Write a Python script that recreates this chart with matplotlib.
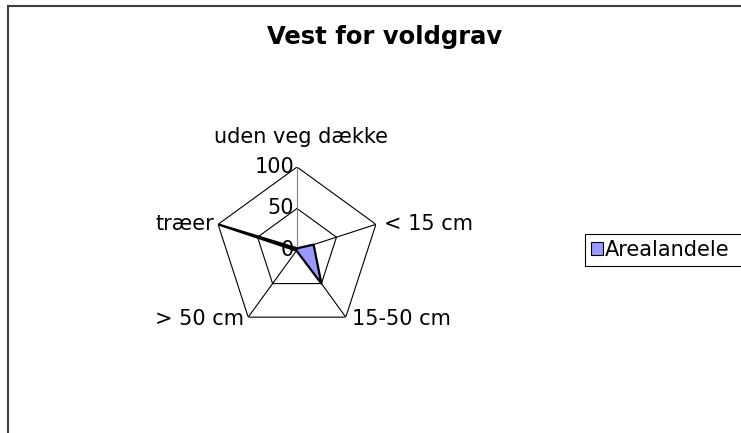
import numpy as np
import matplotlib.pyplot as plt
from matplotlib.lines import Line2D
from matplotlib.patches import Patch

# data
categories = ['uden veg dække', '< 15 cm', '15-50 cm', '> 50 cm', 'træer']
arealandele = [2, 21, 50, 1, 100]
rings = [50, 100]
ring_labels = ['0', '50', '100']

fig = plt.figure(figsize=(7.41, 4.33), dpi=100)
fig.patch.set_facecolor('white')

# chart area border (cut off on right/bottom)
fig.add_artist(Line2D([8/741, 8/741], [0, 1 - 6/433], color='#404040', lw=1.5))
fig.add_artist(Line2D([8/741, 1], [1 - 6/433, 1 - 6/433], color='#404040', lw=1.5))

fig.text(385/741, 1 - 37/433, 'Vest for voldgrav', ha='center', va='center',
         fontsize=17.5, fontweight='bold')

ax = fig.add_axes([(297 - 83)/741, (433 - 250 - 83)/433, 166/741, 166/433],
                  projection='polar')
ax.set_theta_zero_location('N')
ax.set_theta_direction(-1)
ax.set_ylim(0, 100)
ax.grid(False)
ax.spines['polar'].set_visible(False)
ax.set_xticks([])
ax.set_yticks([])
ax.patch.set_alpha(0)

n = len(categories)
theta = np.linspace(0, 2*np.pi, n, endpoint=False)
theta_c = np.append(theta, theta[0])

# grid pentagons
for r in rings:
    ax.plot(theta_c, [r]*(n + 1), color='black', lw=0.8, zorder=1)
# spokes
for i, t in enumerate(theta):
    ax.plot([t, t], [0, 100], color='#808080' if i == 0 else 'black', lw=0.8, zorder=1)

vals = np.append(arealandele, arealandele[0])
ax.fill(theta_c, vals, color='#9999FF', zorder=2)
ax.plot(theta_c, vals, color='black', lw=1.6, zorder=3)

# value labels
for lab, r in zip(ring_labels, [0] + rings):
    ax.annotate(lab, xy=(0, r), xytext=(-3, 0), textcoords='offset pixels',
                ha='right', va='center', fontsize=15)

# category labels
offsets = [(4, 20, 'center', 'bottom'), (8, 0, 'left', 'center'),
           (6, -2, 'left', 'center'), (-4, -2, 'right', 'center'),
           (-4, 0, 'right', 'center')]
for lab, t, (dx, dy, ha, va) in zip(categories, theta, offsets):
    ax.annotate(lab, xy=(t, 100), xytext=(dx, dy), textcoords='offset pixels',
                ha=ha, va=va, fontsize=15)

handles = [Patch(facecolor='#9999FF', edgecolor='black', lw=0.8)]
leg = fig.legend(handles, ['Arealandele'], loc='center left', mode='expand',
                 bbox_to_anchor=(585/741, 1 - 250/433, 200/741, 0), fontsize=15,
                 handlelength=0.55, handleheight=0.55, handletextpad=0.1,
                 borderpad=0.3, borderaxespad=0, fancybox=False, framealpha=1)
leg.get_frame().set_edgecolor('black')
leg.get_frame().set_linewidth(0.8)

fig.savefig('out.png', dpi=100)
